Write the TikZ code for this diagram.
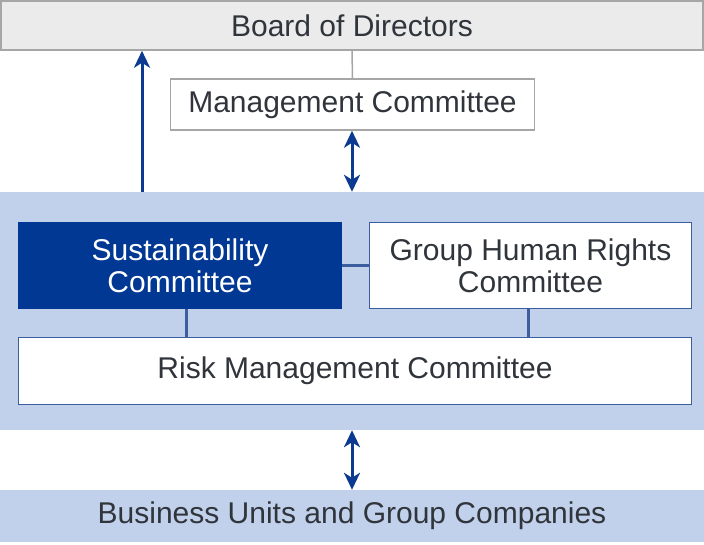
\documentclass[tikz,border=0pt]{standalone}
\usepackage{fontspec}
\setmainfont{Liberation Sans}
\usetikzlibrary{arrows.meta}

\definecolor{boardgray}{HTML}{EBEBEB}
\definecolor{linegray}{HTML}{A6A6A6}
\definecolor{panelblue}{HTML}{C1D1EB}
\definecolor{darkblue}{HTML}{003894}
\definecolor{edgeblue}{HTML}{3D5E9E}
\definecolor{arrowblue}{HTML}{0B3A90}
\definecolor{textgray}{HTML}{30343B}

\begin{document}
\begin{tikzpicture}[
    x=1pt, y=-1pt,
    every node/.style={font=\fontsize{30}{32}\selectfont, text=textgray, inner sep=0pt},
    panel/.style={rectangle, fill=panelblue, minimum width=704pt},
    board/.style={rectangle, draw=linegray, line width=1.5pt, fill=boardgray},
    module/.style={rectangle, draw=edgeblue, line width=1.5pt, fill=white, align=center},
    darkmodule/.style={rectangle, fill=darkblue, text=white, align=center},
    graymodule/.style={rectangle, draw=linegray, line width=1.5pt, fill=white},
    arrow/.style={-{Stealth[length=17pt, width=16pt, inset=5pt]}, draw=arrowblue, line width=3pt},
    dblarrow/.style={{Stealth[length=17pt, width=16pt, inset=5pt]}-{Stealth[length=17pt, width=16pt, inset=5pt]}, draw=arrowblue, line width=3pt},
    link/.style={draw=edgeblue, line width=3pt},
    graylink/.style={draw=linegray, line width=1.5pt}
]
\useasboundingbox (0,0) rectangle (704,544);

% Top level
\node[board, minimum width=702pt, minimum height=49pt] (board) at (352,25.5) {Board of Directors};
\node[graymodule, minimum width=364pt, minimum height=51pt] (mgmt) at (352.5,104.5) {Management Committee};

% Committees
\node[panel, minimum height=238pt] (panel) at (352,311) {};
\node[darkmodule, minimum width=324pt, minimum height=87pt] (sust) at (180,265.5) {Sustainability\\Committee};
\node[module, minimum width=322pt, minimum height=86pt] (human) at (530.5,265.5) {Group Human Rights\\Committee};
\node[module, minimum width=673pt, minimum height=67pt] (risk) at (355,371) {Risk Management Committee};

% Bottom level
\node[panel, minimum height=52pt] (business) at (352,516) {Business Units and Group Companies};

% Connector positions
\coordinate (up) at (142,0);
\coordinate (left) at (186,0);
\coordinate (right) at (528,0);

% Connections
\draw[graylink] (board.south) -- (mgmt.north);
\draw[arrow] (panel.north -| up) -- (board.south -| up);
\draw[dblarrow] (mgmt.south -| board.south) -- (panel.north);
\draw[link] (sust.east) -- (human.west);
\draw[link] (sust.south -| left) -- (risk.north -| left);
\draw[link] (human.south -| right) -- (risk.north -| right);
\draw[dblarrow] (panel.south) -- (business.north);

\end{tikzpicture}
\end{document}
